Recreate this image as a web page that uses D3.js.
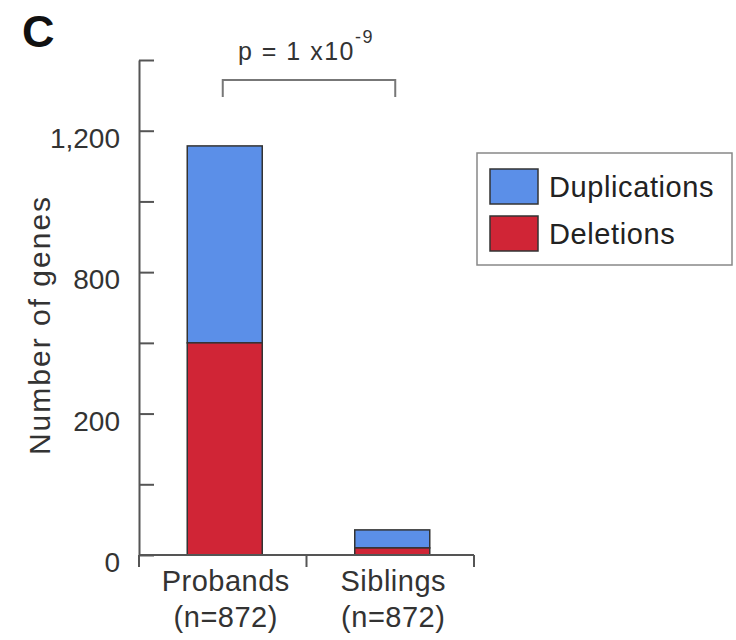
<!DOCTYPE html>
<html>
<head>
<meta charset="utf-8">
<script src="https://cdn.jsdelivr.net/npm/d3@7"></script>
<style>
  body { margin: 0; background: #fff; }
  svg { display: block; font-family: "Liberation Sans", Arial, sans-serif; }
</style>
</head>
<body>
<svg id="chart" width="736" height="640"></svg>
<script>
// ---- data ----
const categories = ["Probands", "Siblings"];
const categorySub = ["(n=872)", "(n=872)"];
const deletions = [600, 20];
const duplications = [557, 51];
const seriesNames = ["Duplications", "Deletions"];
const tickValues = [0, 200, 400, 600, 800, 1000, 1200, 1400];
const tickLabels = ["0", "", "200", "", "800", "", "1,200", ""];

const colors = { Duplications: "#5b8fe8", Deletions: "#d02536" };

const svg = d3.select("#chart");

const y = d3.scaleLinear().domain([0, 1400]).range([555, 60]);
const x = d3.scaleBand().domain(categories).range([139, 474]).padding(0);

const axisColor = "#555";

// panel letter
svg.append("text").attr("x", 22).attr("y", 47)
  .attr("font-size", 45).attr("font-weight", "bold").attr("fill", "#111").text("C");

// y axis
const yAxis = d3.axisLeft(y)
  .tickValues(tickValues)
  .tickFormat((d, i) => tickLabels[i])
  .tickSize(-15)
  .tickSizeOuter(0)
  .tickPadding(19);
const gy = svg.append("g").attr("transform", "translate(139,0)").call(yAxis);
gy.select(".domain").attr("stroke", axisColor).attr("stroke-width", 2);
gy.selectAll(".tick line").attr("stroke", axisColor).attr("stroke-width", 2);
gy.selectAll(".tick text")
  .attr("font-size", 28).attr("fill", "#333").attr("dy", "0.6em")
  .attr("font-family", "'Liberation Sans', Arial, sans-serif");

// y title
svg.append("text")
  .attr("transform", "translate(50,325) rotate(-90)")
  .attr("text-anchor", "middle")
  .attr("font-size", 30).attr("letter-spacing", "2px").attr("fill", "#333")
  .text("Number of genes");

// bars
const barW = 75;
const stackData = categories.map((c, i) => ({ cat: c, del: deletions[i], dup: duplications[i] }));
const barG = svg.append("g");
stackData.forEach(d => {
  const cx = x(d.cat) + x.bandwidth() / 2 + 2;
  barG.append("rect")
    .attr("x", cx - barW / 2).attr("width", barW)
    .attr("y", y(d.del + d.dup)).attr("height", y(d.del) - y(d.del + d.dup))
    .attr("fill", colors.Duplications).attr("stroke", "#333").attr("stroke-width", 1.5);
  barG.append("rect")
    .attr("x", cx - barW / 2).attr("width", barW)
    .attr("y", y(d.del)).attr("height", y(0) - y(d.del))
    .attr("fill", colors.Deletions).attr("stroke", "#333").attr("stroke-width", 1.5);
});

// x axis (band boundaries as ticks)
const gx = svg.append("g");
gx.append("line").attr("x1", x.range()[0]).attr("x2", x.range()[1])
  .attr("y1", y(0)).attr("y2", y(0)).attr("stroke", axisColor).attr("stroke-width", 2);
const bounds = [x.range()[0]].concat(categories.map(c => x(c) + x.step()));
gx.selectAll("line.tk").data(bounds).join("line").attr("class", "tk")
  .attr("x1", d => d).attr("x2", d => d)
  .attr("y1", y(0)).attr("y2", y(0) + 12)
  .attr("stroke", axisColor).attr("stroke-width", 2);
categories.forEach((c, i) => {
  const cx = x(c) + x.bandwidth() / 2 + 3;
  gx.append("text").attr("x", cx).attr("y", 591).attr("text-anchor", "middle")
    .attr("font-size", 29).attr("letter-spacing", "0.5px").attr("fill", "#333").text(c);
  gx.append("text").attr("x", cx).attr("y", 627).attr("text-anchor", "middle")
    .attr("font-size", 29).attr("letter-spacing", "0.5px").attr("fill", "#333").text(categorySub[i]);
});

// significance bracket
const bx1 = x(categories[0]) + x.bandwidth() / 2, bx2 = x(categories[1]) + x.bandwidth() / 2 + 5;
svg.append("path")
  .attr("d", `M${bx1},97 V80 H${bx2} V97`)
  .attr("fill", "none").attr("stroke", "#777").attr("stroke-width", 2);
const pt = svg.append("text").attr("x", (bx1 + bx2) / 2 - 3).attr("y", 60)
  .attr("text-anchor", "middle").attr("font-size", 25).attr("letter-spacing", "1.5px").attr("fill", "#333");
pt.append("tspan").text("p = 1 x10");
pt.append("tspan").attr("font-size", 18).attr("dy", -17).text("-9");

// legend
const lg = svg.append("g");
lg.append("rect").attr("x", 477).attr("y", 153).attr("width", 255).attr("height", 112)
  .attr("fill", "#fff").attr("stroke", "#888").attr("stroke-width", 1.5);
seriesNames.forEach((s, i) => {
  const yy = 169 + i * 47;
  lg.append("rect").attr("x", 490).attr("y", yy).attr("width", 48).attr("height", 35)
    .attr("fill", colors[s]).attr("stroke", "#333").attr("stroke-width", 1.5);
  lg.append("text").attr("x", 549).attr("y", yy + 28)
    .attr("font-size", 29).attr("letter-spacing", "0.6px").attr("fill", "#222").text(s);
});
</script>
</body>
</html>
